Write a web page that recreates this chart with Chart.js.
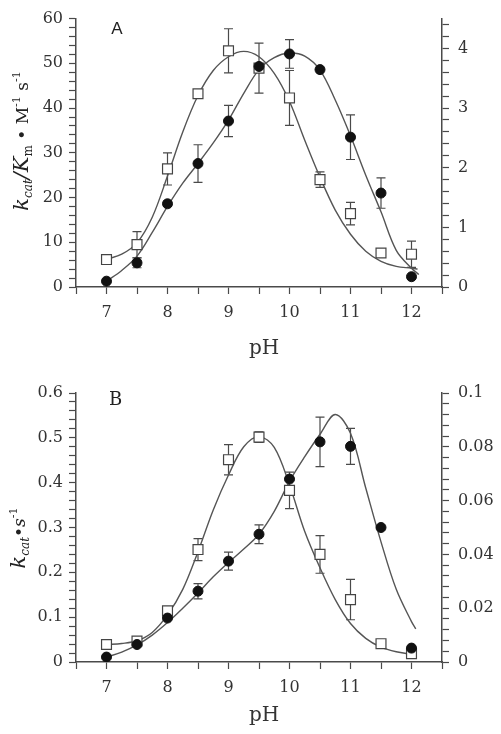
<!DOCTYPE html>
<html>
<head>
<meta charset="utf-8">
<script src="https://cdn.jsdelivr.net/npm/chart.js@4.4.1/dist/chart.umd.min.js"></script>
<style>
  body { margin: 0; background: #fff; }
  .panel { position: absolute; left: 0; width: 501px; height: 367px; }
</style>
</head>
<body>
<div class="panel" style="top:0"><canvas id="chartA"></canvas></div>
<div class="panel" style="top:367px"><canvas id="chartB"></canvas></div>
<script>
// pH of the measured points (both panels)
const ph = [7, 7.5, 8, 8.5, 9, 9.5, 10, 10.5, 11, 11.5, 12]
const ph_labels = [7, 8, 9, 10, 11, 12]

// panel A: filled circles on the left axis, open squares on the right axis
const a_circle = [1.3, 5.4, 18.6, 27.6, 37.1, 49.3, 52.1, 48.6, 33.5, 21.0, 2.3]
const a_circle_err = [0, 1.1, 0.6, 4.2, 3.5, 0, 3.2, 0, 5.0, 3.4, 0]
const a_square = [0.46, 0.71, 1.98, 3.24, 3.96, 3.67, 3.17, 1.80, 1.23, 0.57, 0.55]
const a_square_err = [0, 0.22, 0.27, 0.03, 0.37, 0.42, 0.46, 0.13, 0.19, 0.04, 0.22]

// fitted curves of panel A
const a_circle_fit_ph = [7, 7.25, 7.5, 7.75, 8, 8.25, 8.5, 8.75, 9, 9.25, 9.5, 9.75, 10, 10.25, 10.5, 10.75, 11, 11.25, 11.5, 11.75, 12, 12.12]
const a_circle_fit = [1.3, 3.7, 6.9, 12.2, 18, 23.2, 27.6, 32.2, 37.3, 43.3, 48.6, 51.3, 52.3, 51.6, 48.5, 41.8, 33.8, 25, 16.8, 8.2, 4.2, 2.8]
const a_square_fit_ph = [7, 7.25, 7.5, 7.75, 8, 8.25, 8.5, 8.75, 9, 9.25, 9.5, 9.75, 10, 10.25, 10.5, 10.75, 11, 11.25, 11.5, 11.75, 12, 12.1]
const a_square_fit = [0.465, 0.55, 0.74, 1.17, 1.86, 2.6, 3.21, 3.63, 3.86, 3.95, 3.86, 3.58, 3.11, 2.46, 1.84, 1.29, 0.885, 0.6, 0.43, 0.345, 0.315, 0.3]

const a_left_labels = [0, 10, 20, 30, 40, 50, 60]
const a_right_labels = [0, 1, 2, 3, 4]

// panel B
const b_circle = [0.011, 0.039, 0.098, 0.158, 0.225, 0.285, 0.408, 0.491, 0.481, 0.300, 0.031]
const b_circle_err = [0, 0, 0, 0.017, 0.02, 0.021, 0, 0.055, 0.04, 0, 0]
const b_square = [0.0065, 0.0078, 0.019, 0.0418, 0.0752, 0.0836, 0.0638, 0.040, 0.0232, 0.0068, 0.0031]
const b_square_err = [0, 0, 0, 0.0041, 0.0056, 0.002, 0.0068, 0.007, 0.0075, 0, 0]

const b_circle_fit_ph = [7, 7.25, 7.5, 7.75, 8, 8.25, 8.5, 8.75, 9, 9.25, 9.5, 9.75, 10, 10.25, 10.5, 10.75, 11, 11.25, 11.5, 11.75, 12, 12.07]
const b_circle_fit = [0.011, 0.022, 0.038, 0.06, 0.088, 0.12, 0.154, 0.19, 0.222, 0.252, 0.285, 0.336, 0.403, 0.458, 0.508, 0.552, 0.51, 0.388, 0.268, 0.162, 0.09, 0.074]
const b_square_fit_ph = [7, 7.25, 7.5, 7.75, 8, 8.25, 8.5, 8.75, 9, 9.25, 9.5, 9.75, 10, 10.25, 10.5, 10.75, 11, 11.25, 11.5, 11.75, 12]
const b_square_fit = [0.0065, 0.0069, 0.0079, 0.011, 0.0175, 0.027, 0.041, 0.0565, 0.0695, 0.08, 0.0838, 0.0798, 0.0658, 0.0485, 0.035, 0.0232, 0.0143, 0.0088, 0.0055, 0.0038, 0.0029]

const b_left_labels = [0, 0.1, 0.2, 0.3, 0.4, 0.5, 0.6]
const b_right_labels = [0, 0.02, 0.04, 0.06, 0.08, 0.1]

const INK = '#4a4a4a'
const SERIF = 'DejaVu Serif'

function pts(xs, ys) {
    return xs.map((x, i) => ({x: x, y: ys[i]}))
}

// minor ticks every `step`, labels only where a value is in `labels`
function axis(min, max, step, labels, position, width) {
    return {
        type: 'linear',
        position: position,
        min: min,
        max: max,
        afterBuildTicks: (s) => {
            let t = []
            for (let i = 0; min + i * step <= max + 1e-9; i++) {
                t.push({value: +(min + i * step).toFixed(6)})
            }
            s.ticks = t
        },
        afterFit: (s) => { if (width != null) s.width = width },
        border: {display: true, color: INK, width: 1.5},
        grid: {drawOnChartArea: false, drawTicks: true, tickLength: 7, tickColor: INK, tickWidth: 1.2},
        ticks: {
            autoSkip: false,
            maxRotation: 0,
            padding: position == 'left' ? 6 : 9,
            color: '#333',
            font: {family: SERIF, size: 16},
            callback: (v) => {
                let l = labels.find(l => Math.abs(l - v) < 1e-9)
                return l === undefined ? '' : String(l)
            }
        }
    }
}

const errorBars = {
    id: 'errorBars',
    beforeDatasetsDraw(chart) {
        let ctx = chart.ctx
        let xs = chart.scales.x
        ctx.save()
        ctx.strokeStyle = INK
        ctx.lineWidth = 1.2
        chart.data.datasets.forEach(ds => {
            if (!ds.errors) return
            let ys = chart.scales[ds.yAxisID]
            ds.data.forEach((p, i) => {
                let e = ds.errors[i]
                if (!e) return
                let px = xs.getPixelForValue(p.x)
                let y1 = ys.getPixelForValue(p.y - e)
                let y2 = ys.getPixelForValue(p.y + e)
                ctx.beginPath()
                ctx.moveTo(px, y1); ctx.lineTo(px, y2)
                ctx.moveTo(px - 4.5, y1); ctx.lineTo(px + 4.5, y1)
                ctx.moveTo(px - 4.5, y2); ctx.lineTo(px + 4.5, y2)
                ctx.stroke()
            })
        })
        ctx.restore()
    }
}

// text pieces with sub/superscripts, written rotated along the left side
function drawRich(ctx, parts, cx, cy) {
    ctx.save()
    ctx.translate(cx, cy)
    ctx.rotate(-Math.PI / 2)
    let total = 0
    parts.forEach(p => { ctx.font = p.font; p.w = ctx.measureText(p.text).width; total += p.w })
    let x = -total / 2
    ctx.fillStyle = '#222'
    ctx.textBaseline = 'alphabetic'
    parts.forEach(p => {
        ctx.font = p.font
        ctx.fillText(p.text, x, 7 + (p.dy || 0))
        x += p.w
    })
    ctx.restore()
}

function labelsPlugin(letter, letterFont, letterPos, title, titlePos) {
    return {
        id: 'labels',
        afterDraw(chart) {
            let ctx = chart.ctx
            ctx.save()
            ctx.fillStyle = '#222'
            ctx.textAlign = 'center'
            ctx.textBaseline = 'middle'
            ctx.font = letterFont
            ctx.fillText(letter, letterPos[0], letterPos[1])
            ctx.font = '20px ' + SERIF
            ctx.fillStyle = '#333'
            ctx.fillText('pH', 264, 349)
            ctx.textAlign = 'left'
            drawRich(ctx, title, titlePos[0], titlePos[1])
            ctx.restore()
        }
    }
}

function makeChart(id, d) {
    new Chart(document.getElementById(id), {
        type: 'scatter',
        data: {
            datasets: [
                {data: pts(ph, d.circle), errors: d.circleErr, yAxisID: 'y', order: 0,
                 pointStyle: 'circle', pointRadius: 5, pointBackgroundColor: '#111', pointBorderColor: '#111', pointBorderWidth: 1},
                {data: pts(ph, d.square), errors: d.squareErr, yAxisID: 'y2', order: 0,
                 pointStyle: 'rect', pointRadius: 7, pointBackgroundColor: '#fff', pointBorderColor: '#444', pointBorderWidth: 1.2},
                {data: pts(d.circleFitPh, d.circleFit), yAxisID: 'y', order: 1, showLine: true, pointRadius: 0,
                 borderColor: '#555', borderWidth: 1.4, tension: 0.35},
                {data: pts(d.squareFitPh, d.squareFit), yAxisID: 'y2', order: 1, showLine: true, pointRadius: 0,
                 borderColor: '#555', borderWidth: 1.4, tension: 0.35}
            ]
        },
        options: {
            responsive: true,
            maintainAspectRatio: false,
            animation: false,
            layout: {padding: {top: d.top, left: 0, right: 0, bottom: 0}},
            plugins: {legend: {display: false}, tooltip: {enabled: false}},
            scales: {
                x: Object.assign(axis(6.5, 12.5, 0.5, ph_labels, 'bottom', null), {
                    afterFit: (s) => { s.height = d.xHeight }
                }),
                y: d.left,
                y2: d.right
            }
        },
        plugins: [errorBars, d.labels]
    })
}

makeChart('chartA', {
    circle: a_circle, circleErr: a_circle_err, square: a_square, squareErr: a_square_err,
    circleFitPh: a_circle_fit_ph, circleFit: a_circle_fit, squareFitPh: a_square_fit_ph, squareFit: a_square_fit,
    top: 15, xHeight: 80,
    left: axis(0, 60, 2, a_left_labels, 'left', 76),
    right: axis(0, 4.5, 0.2, a_right_labels, 'right', 59),
    labels: labelsPlugin('A', '17px "Liberation Sans"', [117, 29], [
        {text: 'k', font: 'italic 21px ' + SERIF},
        {text: 'cat', font: 'italic 12px ' + SERIF, dy: 4},
        {text: '/K', font: 'italic 21px ' + SERIF},
        {text: 'm', font: '12px ' + SERIF, dy: 4},
        {text: ' \u2022 M', font: '17px ' + SERIF},
        {text: '-1', font: '11px ' + SERIF, dy: -8},
        {text: ' s', font: '17px ' + SERIF},
        {text: '-1', font: '11px ' + SERIF, dy: -8}
    ], [21, 141])
})

makeChart('chartB', {
    circle: b_circle, circleErr: b_circle_err, square: b_square, squareErr: b_square_err,
    circleFitPh: b_circle_fit_ph, circleFit: b_circle_fit, squareFitPh: b_square_fit_ph, squareFit: b_square_fit,
    top: 26, xHeight: 72,
    left: axis(0, 0.6, 0.02, b_left_labels, 'left', 76),
    right: axis(0, 0.1, 0.004, b_right_labels, 'right', 59),
    labels: labelsPlugin('B', '18px ' + SERIF, [115.5, 33], [
        {text: 'k', font: 'italic 21px ' + SERIF},
        {text: 'cat', font: 'italic 12px ' + SERIF, dy: 4},
        {text: '\u2022', font: '17px ' + SERIF},
        {text: 's', font: 'italic 17px ' + SERIF},
        {text: '-1', font: '11px ' + SERIF, dy: -8}
    ], [18, 171])
})
</script>
</body>
</html>
